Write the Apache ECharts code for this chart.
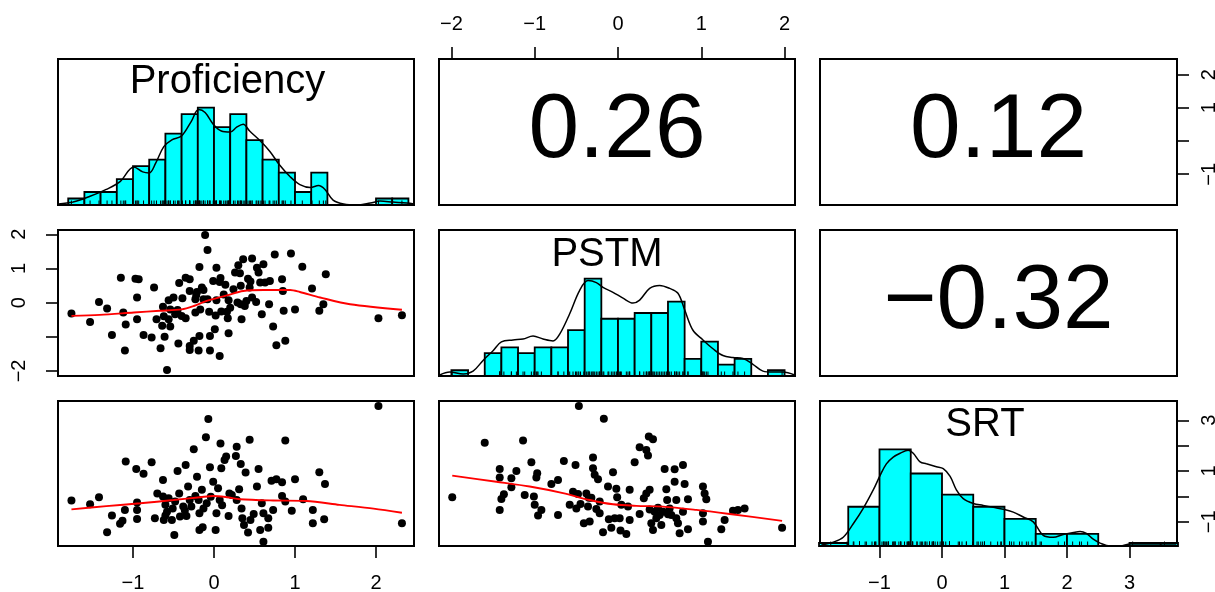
<!DOCTYPE html>
<html><head><meta charset="utf-8">
<script src="https://cdn.jsdelivr.net/npm/echarts@6/dist/echarts.min.js"></script>
<style>html,body{margin:0;padding:0;background:#fff}#c{width:1215px;height:592px}</style>
</head><body><div id="c"></div>
<script>
// ---------------- data ----------------
const VARIABLES = ['Proficiency', 'PSTM', 'SRT'];
// correlations: [Proficiency-PSTM, Proficiency-SRT, PSTM-SRT]
const CORRELATIONS = [0.26, 0.12, -0.32];

// scatter: x = Proficiency, y = PSTM
const PROF_PSTM_POINTS = [[-1.76,-0.32],[-1.53,-0.57],[-1.42,0.02],[-1.32,-0.17],[-1.26,-0.95],[-1.15,0.73],[-1.12,-0.29],[-1.09,-0.64],[-1.10,-1.40],[-0.97,0.70],[-0.93,0.68],[-0.95,0.15],[-0.95,-0.49],[-0.87,-0.95],[-0.77,-1.02],[-0.74,0.44],[-0.71,-0.49],[-0.66,-1.34],[-0.63,-0.12],[-0.64,-0.68],[-0.61,-1.00],[-0.58,-1.97],[-0.56,0.07],[-0.54,-0.20],[-0.56,-0.49],[-0.54,-0.70],[-0.50,0.15],[-0.48,-0.34],[-0.43,0.57],[-0.44,-1.20],[-0.40,-0.39],[-0.39,0.13],[-0.35,-0.46],[-0.35,0.73],[-0.30,0.68],[-0.30,0.34],[-0.30,-1.27],[-0.30,-1.39],[-0.25,-1.12],[-0.23,-0.29],[-0.23,0.10],[-0.21,0.31],[-0.19,-1.40],[-0.18,-0.98],[-0.18,1.04],[-0.17,-0.20],[-0.15,0.44],[-0.13,0.10],[-0.13,0.37],[-0.11,1.98],[-0.08,1.54],[-0.08,0.10],[-0.06,-0.27],[-0.05,-0.98],[-0.05,-1.40],[-0.01,0.63],[0.01,-0.78],[0.03,1.02],[0.03,0.07],[0.07,0.60],[0.08,0.72],[0.07,-1.56],[0.09,-0.26],[0.12,0.24],[0.16,-0.27],[0.17,-0.46],[0.18,-0.90],[0.18,0.07],[0.24,0.39],[0.26,0.88],[0.29,0.00],[0.30,1.09],[0.32,0.86],[0.33,-0.05],[0.33,0.49],[0.34,-0.49],[0.36,1.27],[0.38,-0.10],[0.40,0.05],[0.42,0.70],[0.44,0.44],[0.47,1.29],[0.47,0.15],[0.53,1.02],[0.55,0.88],[0.57,0.59],[0.59,-0.34],[0.61,1.12],[0.63,0.59],[0.68,-0.05],[0.69,0.63],[0.73,-0.70],[0.75,1.41],[0.77,-1.25],[0.84,0.68],[0.85,0.34],[0.86,-0.24],[0.88,-1.12],[0.95,1.44],[1.00,-0.20],[1.09,1.05],[1.21,0.41],[1.30,-0.24],[1.35,-0.05],[1.38,0.83],[2.03,-0.46],[2.32,-0.37],[-0.45,-0.22],[0.20,-0.15],[-0.22,0.22],[0.02,-0.38],[0.52,0.02],[0.14,0.52],[0.45,0.62],[-0.62,-0.40]];

// scatter: x = Proficiency, y = SRT
const PROF_SRT_POINTS = [[-1.76,-0.16],[-1.53,-0.31],[-1.42,-0.03],[-1.32,-1.41],[-1.26,-0.75],[-1.16,-1.08],[-1.13,-0.96],[-1.09,1.38],[-1.10,-0.53],[-0.96,1.08],[-0.95,-0.24],[-0.95,-0.53],[-0.95,-0.89],[-0.87,0.89],[-0.77,1.35],[-0.73,-0.86],[-0.70,0.12],[-0.63,0.65],[-0.63,0.00],[-0.60,-0.33],[-0.58,-0.60],[-0.62,-0.93],[-0.56,-0.07],[-0.52,-0.93],[-0.51,-0.47],[-0.49,-1.52],[-0.45,1.00],[-0.43,0.12],[-0.42,-0.79],[-0.38,-0.40],[-0.35,1.24],[-0.34,-0.77],[-0.32,0.39],[-0.30,-0.14],[-0.28,-0.40],[-0.25,1.86],[-0.23,0.02],[-0.21,0.78],[-0.19,-0.14],[-0.18,-0.66],[-0.18,-1.32],[-0.15,0.26],[-0.14,-1.21],[-0.13,-0.47],[-0.10,2.33],[-0.09,-0.27],[-0.07,3.05],[-0.05,1.15],[-0.04,-0.01],[-0.01,0.58],[0.02,-1.32],[0.03,-0.66],[0.05,0.32],[0.07,-0.14],[0.08,2.09],[0.09,1.11],[0.13,1.44],[0.15,1.57],[0.18,-0.77],[0.19,0.12],[0.22,0.06],[0.28,1.96],[0.27,1.59],[0.28,-0.14],[0.31,0.28],[0.33,1.28],[0.34,-0.47],[0.35,-0.86],[0.37,-1.12],[0.39,0.94],[0.42,-1.42],[0.44,2.23],[0.45,-0.93],[0.49,-0.69],[0.53,0.39],[0.55,1.08],[0.57,-1.32],[0.59,-0.27],[0.61,-1.78],[0.61,-0.66],[0.67,-1.23],[0.67,-0.86],[0.71,0.62],[0.73,-0.53],[0.77,0.68],[0.84,0.56],[0.84,0.02],[0.88,2.20],[0.88,-0.20],[0.96,-0.56],[1.00,0.68],[1.10,-0.11],[1.22,-0.53],[1.22,-1.06],[1.30,0.95],[1.36,-0.90],[1.37,0.49],[2.03,3.56],[2.32,-1.06],[-0.48,-0.20],[-0.36,-0.55],[0.10,-0.35],[-0.60,-0.75]];

// scatter: x = PSTM, y = SRT
const PSTM_SRT_POINTS = [[-1.99,-0.03],[-1.60,2.12],[-1.42,1.08],[-1.42,0.75],[-1.42,-0.53],[-1.40,-0.10],[-1.37,0.09],[-1.28,0.72],[-1.28,0.36],[-1.22,1.00],[-1.14,2.20],[-1.12,0.06],[-1.04,1.35],[-1.01,0.00],[-1.00,-0.33],[-0.98,0.75],[-0.97,0.91],[-0.96,-0.75],[-0.92,-0.53],[-0.80,0.49],[-0.72,0.65],[-0.72,-0.73],[-0.65,1.40],[-0.58,-0.33],[-0.54,0.19],[-0.51,1.24],[-0.50,-0.47],[-0.48,0.10],[-0.47,3.56],[-0.41,-1.06],[-0.38,0.12],[-0.36,-0.40],[-0.34,-0.99],[-0.32,-0.05],[-0.30,1.53],[-0.30,1.11],[-0.28,0.85],[-0.26,-0.49],[-0.24,0.68],[-0.22,-0.66],[-0.22,-0.20],[-0.18,-1.41],[-0.17,3.06],[-0.12,0.39],[-0.11,-0.90],[-0.08,-1.23],[-0.06,0.95],[-0.04,-0.86],[-0.02,0.30],[-0.01,-0.03],[0.02,-0.86],[0.03,-1.34],[0.04,-0.33],[0.10,-1.48],[0.12,-0.40],[0.14,0.26],[0.14,-0.93],[0.20,1.35],[0.26,-0.69],[0.26,1.94],[0.31,-0.07],[0.34,0.12],[0.34,1.83],[0.36,1.61],[0.37,2.36],[0.38,0.26],[0.38,-0.51],[0.40,-1.06],[0.42,2.25],[0.42,-1.32],[0.44,-0.60],[0.46,-0.86],[0.50,-0.73],[0.52,-1.12],[0.54,-0.60],[0.56,1.08],[0.58,0.28],[0.59,-0.14],[0.62,-0.47],[0.64,-0.73],[0.68,1.07],[0.68,0.58],[0.70,-0.14],[0.70,-0.86],[0.72,-1.06],[0.74,-1.45],[0.78,1.24],[0.78,-0.60],[0.80,0.49],[0.84,-1.29],[0.84,-0.11],[1.02,0.39],[1.02,-0.66],[1.02,-0.99],[1.04,0.12],[1.06,-0.11],[1.08,-1.78],[1.24,-1.29],[1.28,-0.93],[1.38,-0.56],[1.44,-0.53],[1.52,-0.47],[1.97,-1.23],[-0.45,-0.30],[-0.35,-0.05],[0.48,-0.45],[0.60,-0.70]];

// loess smoothers (red lines)
const PROF_PSTM_LOESS = [[-1.76,-0.39],[-1.41,-0.36],[-0.99,-0.29],[-0.67,-0.24],[-0.40,-0.20],[-0.25,-0.10],[-0.09,0.05],[0.16,0.21],[0.36,0.34],[0.61,0.37],[0.77,0.37],[0.94,0.37],[1.06,0.31],[1.31,0.15],[1.68,-0.05],[2.32,-0.21]];
const PROF_SRT_LOESS = [[-1.76,-0.51],[-1.33,-0.38],[-0.91,-0.27],[-0.50,-0.14],[-0.17,-0.03],[-0.01,0.02],[0.16,-0.03],[0.32,-0.11],[0.73,-0.16],[1.14,-0.18],[1.55,-0.33],[1.97,-0.48],[2.32,-0.64]];
const PSTM_SRT_LOESS = [[-1.99,0.82],[-1.46,0.58],[-1.06,0.39],[-0.66,0.13],[-0.34,-0.14],[-0.06,-0.31],[0.22,-0.37],[0.54,-0.40],[0.94,-0.53],[1.34,-0.69],[1.97,-0.96]];

// histograms (breaks and counts)
const PROF_BREAKS = [-1.8,-1.6,-1.4,-1.2,-1.0,-0.8,-0.6,-0.4,-0.2,0.0,0.2,0.4,0.6,0.8,1.0,1.2,1.4,1.6,1.8,2.0,2.2,2.4];
const PROF_COUNTS = [1,2,2,4,6,7,11,14,15,12,14,10,7,5,2,5,0,0,0,1,1];
const PSTM_BREAKS = [-2.0,-1.8,-1.6,-1.4,-1.2,-1.0,-0.8,-0.6,-0.4,-0.2,0.0,0.2,0.4,0.6,0.8,1.0,1.2,1.4,1.6,1.8,2.0];
const PSTM_COUNTS = [1,0,4,5,4,5,5,8,17,10,10,11,11,13,3,6,2,3,0,1];
const SRT_BREAKS = [-2.0,-1.5,-1.0,-0.5,0.0,0.5,1.0,1.5,2.0,2.5,3.0,3.5,4.0];
const SRT_COUNTS = [1,13,32,24,17,13,9,4,4,0,1,1];

// density curves (scaled to max 1)
const PROF_DENSITY = [[-1.92,0.01],[-1.74,0.03],[-1.53,0.09],[-1.33,0.16],[-1.16,0.24],[-0.99,0.39],[-0.88,0.34],[-0.80,0.33],[-0.72,0.43],[-0.62,0.60],[-0.52,0.67],[-0.40,0.71],[-0.28,0.86],[-0.19,0.98],[-0.11,0.95],[-0.01,0.83],[0.09,0.76],[0.20,0.75],[0.28,0.80],[0.36,0.83],[0.44,0.76],[0.57,0.66],[0.69,0.55],[0.81,0.41],[0.94,0.29],[1.06,0.21],[1.19,0.18],[1.29,0.20],[1.37,0.16],[1.47,0.05],[1.60,0.01],[1.76,0.00],[1.93,0.02],[2.05,0.04],[2.21,0.03],[2.38,0.02],[2.47,0.01]];
const PSTM_DENSITY = [[-2.14,0.01],[-2.02,0.04],[-1.86,0.02],[-1.74,0.05],[-1.62,0.16],[-1.50,0.26],[-1.40,0.35],[-1.26,0.37],[-1.14,0.38],[-1.02,0.41],[-0.90,0.38],[-0.78,0.36],[-0.70,0.43],[-0.58,0.64],[-0.46,0.88],[-0.36,0.98],[-0.26,0.96],[-0.18,0.91],[-0.06,0.86],[0.06,0.80],[0.18,0.75],[0.26,0.78],[0.38,0.90],[0.50,0.93],[0.62,0.90],[0.72,0.85],[0.80,0.68],[0.90,0.47],[1.02,0.37],[1.14,0.28],[1.26,0.21],[1.38,0.19],[1.50,0.18],[1.62,0.12],[1.74,0.05],[1.86,0.04],[1.98,0.04],[2.12,0.01]];
const SRT_DENSITY = [[-1.93,0.01],[-1.74,0.04],[-1.58,0.09],[-1.42,0.23],[-1.26,0.39],[-1.10,0.58],[-0.99,0.73],[-0.89,0.85],[-0.78,0.92],[-0.67,0.96],[-0.54,0.99],[-0.46,0.96],[-0.35,0.87],[-0.25,0.85],[-0.09,0.82],[0.02,0.80],[0.13,0.72],[0.23,0.58],[0.34,0.49],[0.50,0.44],[0.66,0.42],[0.82,0.40],[0.98,0.38],[1.14,0.35],[1.30,0.30],[1.46,0.25],[1.62,0.11],[1.78,0.09],[1.94,0.12],[2.10,0.14],[2.21,0.15],[2.31,0.13],[2.42,0.07],[2.53,0.03],[2.69,0.00],[2.85,0.00],[3.01,0.02],[3.22,0.02],[3.43,0.02],[3.65,0.02],[3.75,0.02]];

// axis ticks and labels
const TOP_TICKS = [-2,-1,0,1,2],      TOP_LABELS = [-2,-1,0,1,2];
const BOTTOM1_TICKS = [-1,0,1,2],     BOTTOM1_LABELS = [-1,0,1,2];
const BOTTOM3_TICKS = [-1,0,1,2,3],   BOTTOM3_LABELS = [-1,0,1,2,3];
const LEFT2_TICKS = [-2,-1,0,1,2],    LEFT2_LABELS = [-2,0,1,2];
const RIGHT1_TICKS = [-1,0,1,2],      RIGHT1_LABELS = [-1,1,2];
const RIGHT3_TICKS = [-1,0,1,2,3],    RIGHT3_LABELS = [-1,1,3];

// ---------------- layout ----------------
const PANEL_COLS = [[58,414],[439,795],[820,1177]];
const PANEL_ROWS = [[59,205],[230,376],[401,546]];
const AXIS_RANGE = [[-1.926,2.469],[-2.149,2.125],[-1.952,3.76]];
const HIST_RANGE = [0, 1.5];
const FONT = '"Liberation Sans", Arial, Helvetica, sans-serif';
const TICK_FONT_SIZE = 20;

const fmt = v => String(v).replace('-', '\u2212');

function hiddenAxis(g, range) {
  return {type: 'value', gridIndex: g, min: range[0], max: range[1], show: false,
    axisLine: {show: false, onZero: false}};
}
function shownAxis(g, range, position, ticks, labels, margin, rotate) {
  return {
    type: 'value', gridIndex: g, min: range[0], max: range[1], position: position, show: true,
    axisLine: {show: false, onZero: false}, splitLine: {show: false},
    axisTick: {show: true, inside: false, length: 12, customValues: ticks, lineStyle: {color: '#000', width: 1.6}},
    axisLabel: {show: true, customValues: labels, formatter: fmt, margin: margin, rotate: rotate || 0,
      fontSize: TICK_FONT_SIZE, color: '#000', fontFamily: FONT}
  };
}

const grids = [], xAxes = [], yAxes = [];
for (let r = 0; r < 3; r++) {
  for (let c = 0; c < 3; c++) {
    const g = r * 3 + c;
    grids.push({
      left: PANEL_COLS[c][0], top: PANEL_ROWS[r][0],
      width: PANEL_COLS[c][1] - PANEL_COLS[c][0], height: PANEL_ROWS[r][1] - PANEL_ROWS[r][0],
      show: true, borderColor: '#000', borderWidth: 2, backgroundColor: 'transparent',
      containLabel: false, outerBoundsMode: 'none'
    });
    xAxes.push(hiddenAxis(g, AXIS_RANGE[c]));
    yAxes.push(hiddenAxis(g, r === c ? HIST_RANGE : AXIS_RANGE[r]));
  }
}
xAxes[1] = shownAxis(1, AXIS_RANGE[1], 'top', TOP_TICKS, TOP_LABELS, 25);
xAxes[6] = shownAxis(6, AXIS_RANGE[0], 'bottom', BOTTOM1_TICKS, BOTTOM1_LABELS, 27);
xAxes[8] = shownAxis(8, AXIS_RANGE[2], 'bottom', BOTTOM3_TICKS, BOTTOM3_LABELS, 27);
yAxes[3] = shownAxis(3, AXIS_RANGE[1], 'left', LEFT2_TICKS, LEFT2_LABELS, 29, 90);
yAxes[2] = shownAxis(2, AXIS_RANGE[0], 'right', RIGHT1_TICKS, RIGHT1_LABELS, 22, 90);
yAxes.push(shownAxis(8, AXIS_RANGE[2], 'right', RIGHT3_TICKS, RIGHT3_LABELS, 22, 90)); // index 9

const series = [];

function histSeries(g, breaks, counts) {
  const mx = Math.max.apply(null, counts);
  const data = counts.map((n, i) => [breaks[i], breaks[i + 1], n / mx]).filter(d => d[2] > 0);
  return {
    type: 'custom', xAxisIndex: g, yAxisIndex: g, data: data, silent: true, z: 2,
    encode: {x: [0, 1], y: 2},
    renderItem: function (params, api) {
      const p0 = api.coord([api.value(0), 0]);
      const p1 = api.coord([api.value(1), api.value(2)]);
      const cs = params.coordSys;
      const rect = echarts.graphic.clipRectByRect(
        {x: p0[0], y: p1[1], width: p1[0] - p0[0], height: p0[1] - p1[1]},
        {x: cs.x - 1, y: cs.y, width: cs.width + 2, height: cs.height + 1});
      if (!rect) return null;
      return {type: 'rect', shape: rect, style: {fill: '#00FFFF', stroke: '#000', lineWidth: 1.8}};
    }
  };
}
function rugSeries(g, values) {
  return {
    type: 'custom', xAxisIndex: g, yAxisIndex: g, data: values.map(v => [v, 0]), silent: true, z: 4,
    encode: {x: 0, y: 1},
    renderItem: function (params, api) {
      const p = api.coord([api.value(0), 0]);
      return {type: 'line', shape: {x1: p[0], y1: p[1], x2: p[0], y2: p[1] - 4.5},
        style: {stroke: '#000', lineWidth: 1}};
    }
  };
}
function lineSeries(g, data, color, width, smooth) {
  return {type: 'line', xAxisIndex: g, yAxisIndex: g, data: data, symbol: 'none', showSymbol: false,
    smooth: smooth, silent: true, z: 3, lineStyle: {color: color, width: width}};
}
function scatterSeries(g, data) {
  return {type: 'scatter', xAxisIndex: g, yAxisIndex: g, data: data, symbol: 'circle', symbolSize: 8,
    silent: true, z: 2, itemStyle: {color: '#000', opacity: 1}};
}

// diagonal panels
series.push(histSeries(0, PROF_BREAKS, PROF_COUNTS));
series.push(histSeries(4, PSTM_BREAKS, PSTM_COUNTS));
series.push(histSeries(8, SRT_BREAKS, SRT_COUNTS));
series.push(lineSeries(0, PROF_DENSITY, '#000', 1.5, 0.35));
series.push(lineSeries(4, PSTM_DENSITY, '#000', 1.5, 0.35));
series.push(lineSeries(8, SRT_DENSITY, '#000', 1.5, 0.35));
series.push(rugSeries(0, PROF_PSTM_POINTS.map(p => p[0])));
series.push(rugSeries(4, PSTM_SRT_POINTS.map(p => p[0])));
series.push(rugSeries(8, PROF_SRT_POINTS.map(p => p[1])));
// lower panels
series.push(scatterSeries(3, PROF_PSTM_POINTS));
series.push(scatterSeries(6, PROF_SRT_POINTS));
series.push(scatterSeries(7, PSTM_SRT_POINTS));
series.push(lineSeries(3, PROF_PSTM_LOESS, '#FF0000', 1.9, 0.3));
series.push(lineSeries(6, PROF_SRT_LOESS, '#FF0000', 1.9, 0.3));
series.push(lineSeries(7, PSTM_SRT_LOESS, '#FF0000', 1.9, 0.3));

// texts: variable names on diagonal, correlations in upper panels
const NAME_POS = [[227.5, 82], [607, 255], [985, 425]];
const CORR_CELLS = [[0, 1], [0, 2], [1, 2]];
const graphics = [];
VARIABLES.forEach((name, i) => {
  graphics.push({type: 'text', x: NAME_POS[i][0], y: NAME_POS[i][1], z: 10,
    style: {text: name, fontSize: 40, fontFamily: FONT, fill: '#000', align: 'center', verticalAlign: 'middle'}});
});
CORRELATIONS.forEach((r, i) => {
  const [row, col] = CORR_CELLS[i];
  const cx = (PANEL_COLS[col][0] + PANEL_COLS[col][1]) / 2;
  const cy = (PANEL_ROWS[row][0] + PANEL_ROWS[row][1]) / 2;
  graphics.push({type: 'text', x: cx, y: cy, z: 10,
    style: {text: fmt(r.toFixed(2)), fontSize: 91, fontFamily: FONT, fill: '#000', align: 'center', verticalAlign: 'middle'}});
});

const chart = echarts.init(document.getElementById('c'), null, {renderer: 'canvas', width: 1215, height: 592});
chart.setOption({
  animation: false,
  backgroundColor: '#fff',
  grid: grids, xAxis: xAxes, yAxis: yAxes,
  series: series,
  graphic: graphics
});
</script>
</body></html>
